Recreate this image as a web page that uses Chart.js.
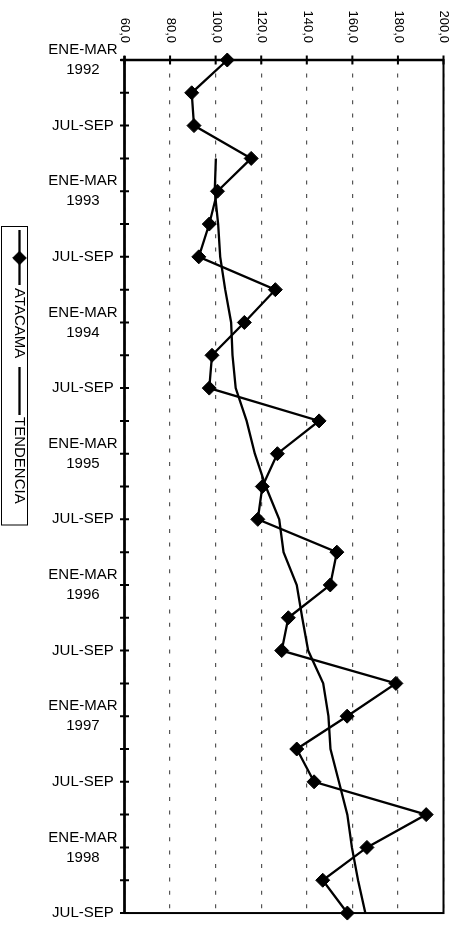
<!DOCTYPE html>
<html>
<head>
<meta charset="utf-8">
<script src="https://cdn.jsdelivr.net/npm/chart.js@4.4.1/dist/chart.umd.min.js"></script>
<style>
  html, body { margin: 0; padding: 0; background: #fff; }
  #wrap { position: relative; width: 460px; height: 940px; }
</style>
</head>
<body>
<div id="wrap"><canvas id="chart" width="460" height="940"></canvas></div>
<script>
// Quarterly periods, 1992 Q1 to 1998 Q3 (only Q1 and Q3 carry a label)
const periodLabels = [
  ['ENE-MAR', '1992'], '', 'JUL-SEP', '',
  ['ENE-MAR', '1993'], '', 'JUL-SEP', '',
  ['ENE-MAR', '1994'], '', 'JUL-SEP', '',
  ['ENE-MAR', '1995'], '', 'JUL-SEP', '',
  ['ENE-MAR', '1996'], '', 'JUL-SEP', '',
  ['ENE-MAR', '1997'], '', 'JUL-SEP', '',
  ['ENE-MAR', '1998'], '', 'JUL-SEP'
];

// Index values for Atacama
const atacama = [
  105.1, 89.5, 90.5, 115.6, 100.8, 97.2, 92.6, 126.2, 112.6, 98.4,
  97.2, 145.4, 127.1, 120.5, 118.5, 153.2, 150.3, 131.9, 129.0, 179.1,
  157.7, 135.6, 143.2, 192.4, 166.4, 147.0, 157.8
];

// Trend line (starts with the fourth quarter)
const tendencia = [
  null, null, null, 100.1, 99.6, 101.1, 102.0, 104.2, 106.8, 107.4,
  108.8, 113.6, 117.2, 122.0, 127.9, 129.8, 135.6, 138.0, 140.6, 147.2,
  149.5, 150.4, 154.1, 157.8, 159.8, 162.5, 165.7
];

// Value axis ticks and their printed labels
const axisValues = [60, 80, 100, 120, 140, 160, 180, 200];
const axisLabels = ['60,0', '80,0', '100,0', '120,0', '140,0', '160,0', '180,0', '200,0'];

const seriesNames = ['ATACAMA', 'TENDENCIA'];

const FONT = '"Liberation Sans", Arial, Helvetica, sans-serif';

function diamond(ctx, cx, cy, r) {
  ctx.beginPath();
  ctx.moveTo(cx - r, cy);
  ctx.lineTo(cx, cy - r);
  ctx.lineTo(cx + r, cy);
  ctx.lineTo(cx, cy + r);
  ctx.closePath();
  ctx.fill();
  ctx.stroke();
}

// White background, plot frame and axis tick marks (under the series)
const framePlugin = {
  id: 'framePlugin',
  beforeDraw(chart) {
    const ctx = chart.ctx;
    ctx.save();
    ctx.fillStyle = '#fff';
    ctx.fillRect(0, 0, chart.width, chart.height);
    ctx.restore();
  },
  beforeDatasetsDraw(chart) {
    const { ctx, chartArea: a, scales: { x, y } } = chart;
    ctx.save();
    ctx.strokeStyle = '#000';
    ctx.lineWidth = 2;
    ctx.strokeRect(a.left, a.top, a.right - a.left, a.bottom - a.top);
    ctx.lineWidth = 2.5;
    ctx.beginPath();
    ctx.moveTo(a.left, a.bottom);
    ctx.lineTo(a.left, a.top - 4);
    ctx.moveTo(a.left - 4, a.top);
    ctx.lineTo(a.right, a.top);
    ctx.stroke();

    ctx.lineWidth = 2;
    ctx.beginPath();
    for (let i = 0; i < periodLabels.length; i++) {
      const py = y.getPixelForValue(i);
      ctx.moveTo(a.left - 4.5, py);
      ctx.lineTo(a.left + 4.5, py);
    }
    axisValues.forEach(v => {
      const px = x.getPixelForValue(v);
      ctx.moveTo(px, a.top - 4.5);
      ctx.lineTo(px, a.top + 4.5);
    });
    ctx.stroke();
    ctx.restore();
  },
  afterDraw(chart) {
    const { ctx, chartArea: a, scales: { x } } = chart;
    ctx.save();
    // value labels, turned to read downwards
    ctx.fillStyle = '#000';
    ctx.font = '13px ' + FONT;
    ctx.textAlign = 'right';
    ctx.textBaseline = 'middle';
    axisValues.forEach((v, i) => {
      const px = x.getPixelForValue(v);
      ctx.save();
      ctx.translate(px + 0.5, a.top - 17);
      ctx.rotate(Math.PI / 2);
      ctx.fillText(axisLabels[i], 0, 0);
      ctx.restore();
    });

    // legend box, turned like the value labels
    ctx.strokeStyle = '#000';
    ctx.lineWidth = 1;
    ctx.strokeRect(1.5, 226.5, 26, 298.5);

    const lx = 19.5;
    ctx.lineWidth = 2.3;
    ctx.beginPath();
    ctx.moveTo(lx, 230);
    ctx.lineTo(lx, 285);
    ctx.stroke();
    ctx.fillStyle = '#000';
    ctx.lineWidth = 1;
    diamond(ctx, lx, 258, 6.8);

    ctx.lineWidth = 2.3;
    ctx.beginPath();
    ctx.moveTo(lx, 367);
    ctx.lineTo(lx, 415);
    ctx.stroke();

    ctx.font = '15px ' + FONT;
    ctx.textAlign = 'left';
    ctx.textBaseline = 'middle';
    [[seriesNames[0], 288], [seriesNames[1], 417]].forEach(([txt, ty]) => {
      ctx.save();
      ctx.translate(lx, ty);
      ctx.rotate(Math.PI / 2);
      ctx.fillText(txt, 0, 0);
      ctx.restore();
    });
    ctx.restore();
  }
};

new Chart(document.getElementById('chart').getContext('2d'), {
  type: 'line',
  data: {
    labels: periodLabels,
    datasets: [
      {
        label: seriesNames[0],
        data: atacama,
        borderColor: '#000',
        backgroundColor: '#000',
        borderWidth: 2.3,
        pointStyle: 'rectRot',
        pointRadius: 7,
        pointBorderWidth: 1,
        pointBackgroundColor: '#000',
        pointBorderColor: '#000',
        tension: 0,
        clip: false,
        order: 0
      },
      {
        label: seriesNames[1],
        data: tendencia,
        borderColor: '#000',
        borderWidth: 2.3,
        pointRadius: 0,
        tension: 0,
        clip: false,
        order: 1
      }
    ]
  },
  options: {
    indexAxis: 'y',
    responsive: false,
    animation: false,
    devicePixelRatio: 1,
    layout: { padding: { top: 0, left: 0, right: 16.5, bottom: 10 } },
    plugins: { legend: { display: false }, tooltip: { enabled: false } },
    scales: {
      x: {
        type: 'linear',
        position: 'top',
        min: 60,
        max: 200,
        ticks: { display: false, stepSize: 20 },
        grid: { color: '#555', lineWidth: 1.2, drawTicks: false },
        border: { display: false, dash: [4, 9.4] },
        afterFit(scale) { scale.height = 60; }
      },
      y: {
        type: 'category',
        ticks: {
          autoSkip: false,
          color: '#000',
          font: { family: FONT, size: 15, lineHeight: 1.33 },
          crossAlign: 'center',
          padding: 7
        },
        grid: { display: false, drawTicks: false },
        border: { display: false },
        afterFit(scale) { scale.width = 124.5; }
      }
    }
  },
  plugins: [framePlugin]
});
</script>
</body>
</html>
